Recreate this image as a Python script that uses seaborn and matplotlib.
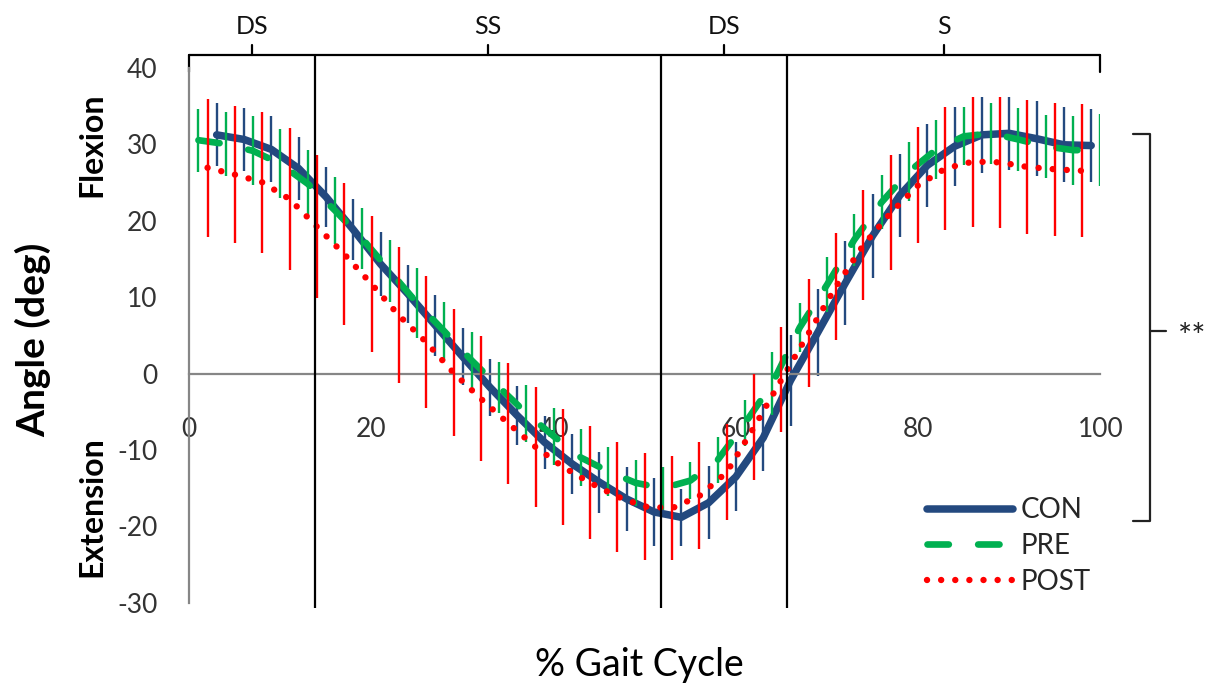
"""
Knee angle over the gait cycle (CON / PRE / POST) with SD bars
"""

import matplotlib
matplotlib.use("Agg")
import matplotlib.pyplot as plt
import seaborn as sns

# Set style
sns.set_style("white")
plt.rcParams['font.family'] = ['Lato', 'DejaVu Sans']
plt.rcParams['axes.unicode_minus'] = False

# --- data ---------------------------------------------------------------
# each group is sampled every 3 % of the cycle, staggered like the SD bars
pre_x = list(range(1, 101, 3))
post_x = list(range(2, 100, 3))
con_x = list(range(3, 100, 3))

con_mean = [31.2, 30.6, 29.3, 26.8, 23.1, 18.8, 14.3, 10.4, 6.3, 2.2,
            -1.8, -5.5, -9.0, -11.8, -14.2, -16.4, -18.1, -18.8, -16.9, -13.5,
            -8.4, -0.9, 5.4, 11.8, 18.0, 23.3, 27.2, 29.7, 31.2, 31.4,
            30.7, 29.9, 29.8]
con_sd = [4.1, 4.1, 4.3, 4.1, 3.9, 4.0, 4.2, 3.8, 4.0, 3.7,
          3.7, 3.9, 3.5, 3.9, 4.0, 4.2, 4.4, 3.7, 4.8, 4.5,
          4.4, 5.9, 5.7, 5.5, 5.5, 5.4, 5.4, 5.2, 5.0, 4.8,
          4.9, 4.9, 4.8]

pre_mean = [30.5, 30.0, 29.1, 27.4, 24.8, 21.3, 17.6, 13.4, 9.2, 5.5,
            1.7, -1.8, -5.2, -8.2, -11.0, -12.8, -14.3, -15.0, -14.0, -11.3,
            -6.5, -1.3, 6.0, 11.6, 17.5, 22.4, 26.4, 29.3, 31.0, 31.4,
            30.6, 29.7, 29.2, 29.2]
pre_sd = [4.1, 4.2, 4.5, 4.5, 4.4, 4.4, 4.0, 4.1, 4.6, 3.9,
          3.7, 3.3, 3.7, 3.7, 3.7, 3.2, 3.0, 2.8, 2.4, 3.0,
          3.0, 4.1, 3.2, 3.6, 3.4, 3.5, 3.9, 3.9, 3.8, 4.0,
          4.1, 4.1, 4.5, 4.7]

post_mean = [26.9, 26.0, 25.0, 22.8, 19.2, 15.6, 11.7, 7.6, 4.1, 0.1,
             -3.3, -6.5, -9.6, -12.2, -14.3, -16.1, -17.4, -17.6, -16.0, -12.9,
             -7.0, -0.8, 5.3, 11.4, 16.8, 21.0, 24.6, 26.8, 27.7, 27.6,
             27.0, 26.7, 26.5]
post_sd = [9.0, 9.0, 9.2, 9.3, 9.3, 9.3, 8.9, 8.9, 8.6, 8.3,
           8.2, 7.9, 7.9, 7.6, 7.4, 7.2, 7.0, 6.8, 7.0, 6.3,
           6.9, 6.9, 7.0, 7.0, 7.2, 7.5, 7.6, 8.1, 8.5, 8.6,
           8.8, 8.7, 8.7]

# gait phase boundaries (% cycle) and their labels
phase_bounds = [0, 13.8, 51.8, 65.6, 100]
phase_labels = ['DS', 'SS', 'DS', 'S']

x_ticks = [0, 20, 40, 60, 80, 100]
y_ticks = [-30, -20, -10, 0, 10, 20, 30, 40]

# --- styling ---------------------------------------------------------------
BLUE = '#23497F'
GREEN = '#00B050'
RED = '#FF0000'
AXIS_GREY = '#868686'
TXT = '#333333'

series = [
    ('CON', con_x, con_mean, con_sd, BLUE, 5.4, '-'),
    ('PRE', pre_x, pre_mean, pre_sd, GREEN, 4.8, (0, (3.2, 4.4))),
    ('POST', post_x, post_mean, post_sd, RED, 4.6, (0, (0.01, 2.2))),
]

fig = plt.figure(figsize=(12.09, 6.87), dpi=100)
ax = fig.add_axes([0.1566, 0.1223, 0.7535, 0.7794])

handles = []
for z, (name, xs, mean, sd, color, lw, ls) in enumerate(series):
    ax.errorbar(xs, mean, yerr=sd, fmt='none', ecolor=color,
                elinewidth=1.7, capsize=0, zorder=2 + z)
    sns.lineplot(x=xs, y=mean, color=color, linewidth=lw, ax=ax,
                 sort=False, zorder=2.5 + z)
    line = ax.lines[-1]
    line.set_linestyle(ls)
    line.set_dash_capstyle('round')
    line.set_solid_capstyle('round')
    handles.append(line)

ax.set_xlim(0, 100)
ax.set_ylim(-30, 40)

# axes: x axis crosses at y = 0, grey spines, outward ticks
for side in ['top', 'right']:
    ax.spines[side].set_visible(False)
ax.spines['bottom'].set_position(('data', 0))
for side in ['left', 'bottom']:
    ax.spines[side].set_color(AXIS_GREY)
    ax.spines[side].set_linewidth(1.6)

ax.set_xticks(x_ticks)
ax.set_yticks(y_ticks)
ax.tick_params(axis='x', direction='out', length=8, width=1.6, color=AXIS_GREY,
               pad=23, labelsize=19, labelcolor=TXT)
ax.tick_params(axis='y', direction='out', length=8, width=1.6, color=AXIS_GREY,
               pad=15, labelsize=19, labelcolor=TXT)

# phase boundaries + top phase bar
y_top = 41.6
ax.vlines(phase_bounds[1:-1], -30.6, y_top, color='black', lw=1.6,
          clip_on=False, zorder=6)
ax.plot([phase_bounds[0], phase_bounds[-1]], [y_top, y_top], color='black',
        lw=1.6, clip_on=False, zorder=6)
for xe in [phase_bounds[0], phase_bounds[-1]]:
    ax.plot([xe, xe], [y_top, 39.4], color='black', lw=1.6, clip_on=False)
for a, b, lab in zip(phase_bounds[:-1], phase_bounds[1:], phase_labels):
    mid = (a + b) / 2
    ax.plot([mid, mid], [y_top, 43.0], color='black', lw=1.6, clip_on=False)
    ax.text(mid, 45.4, lab, ha='center', va='center', fontsize=18,
            color='#111111', clip_on=False)

# significance bracket on the right
bx, by0, by1, bmid = 105.5, -19.3, 31.3, 5.6
ax.plot([103.6, bx, bx, 103.6], [by1, by1, by0, by0], color='#222222',
        lw=1.6, clip_on=False)
ax.plot([bx, 107.2], [bmid, bmid], color='#222222', lw=1.6, clip_on=False)
ax.text(110.1, bmid - 0.9, '**', ha='center', va='center', fontsize=24,
        color='#222222', clip_on=False)

# legend
ax.legend(handles, ['CON', 'PRE', 'POST'], loc='center left',
          bbox_to_anchor=(0.767, 0.205), bbox_transform=fig.transFigure,
          frameon=False, fontsize=20, handlelength=3.1, handletextpad=0.25,
          labelspacing=0.35, borderpad=0, borderaxespad=0)

# axis titles
fig.text(0.027, 0.505, 'Angle (deg)', rotation=90, ha='center', va='center',
         fontsize=28, fontweight='bold', color='black')
fig.text(0.076, 0.789, 'Flexion', rotation=90, ha='center', va='center',
         fontsize=23, fontweight='bold', color='black')
fig.text(0.076, 0.262, 'Extension', rotation=90, ha='center', va='center',
         fontsize=23, fontweight='bold', color='black')
fig.text(0.529, 0.032, '% Gait Cycle', ha='center', va='center',
         fontsize=27, color='black')

fig.savefig('out.png', dpi=100)
plt.close(fig)
